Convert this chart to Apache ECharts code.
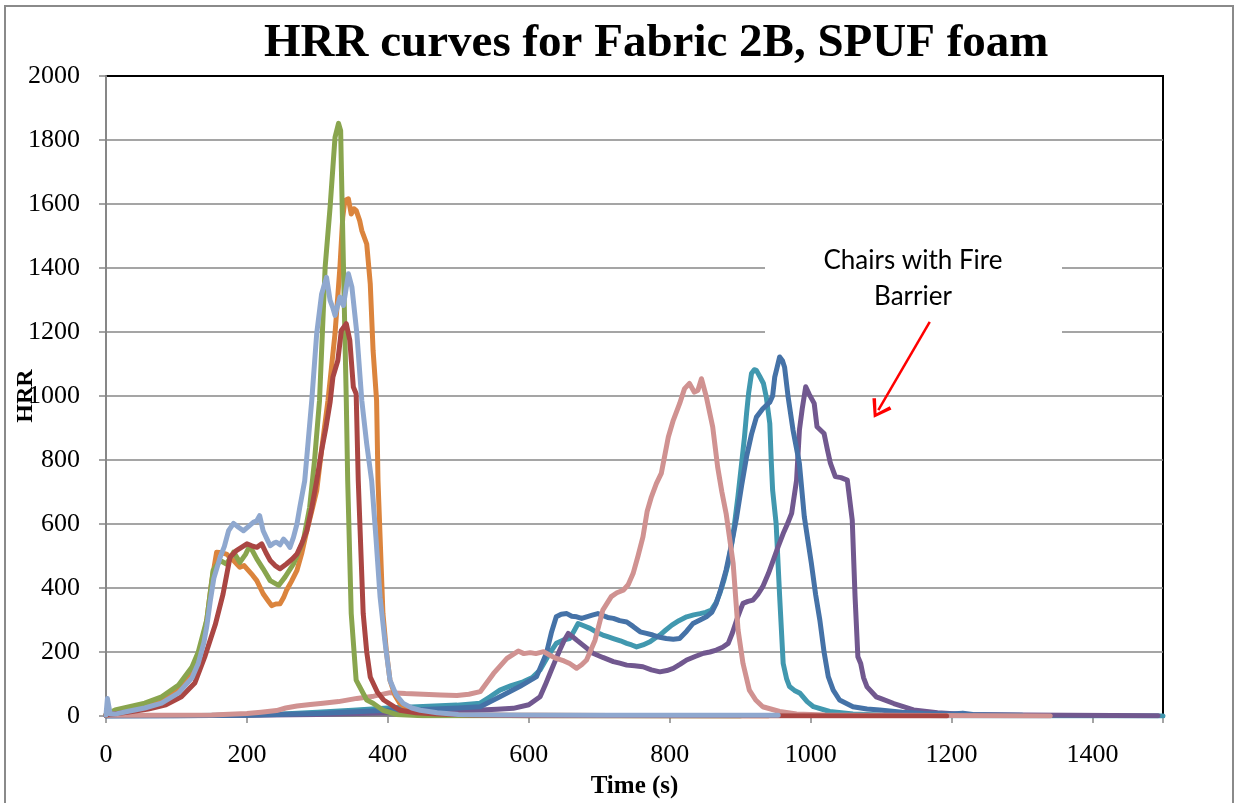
<!DOCTYPE html>
<html>
<head>
<meta charset="utf-8">
<title>HRR curves for Fabric 2B, SPUF foam</title>
<script src="https://cdn.jsdelivr.net/npm/echarts@6/dist/echarts.min.js"></script>
<style>
  html, body { margin: 0; padding: 0; background: #fff; }
  #chart { width: 1236px; height: 803px; }
</style>
</head>
<body>
<div id="chart"></div>
<script>
// Tick labels shown on each axis
const xTickLabels = [0, 200, 400, 600, 800, 1000, 1200, 1400];
const yTickLabels = [0, 200, 400, 600, 800, 1000, 1200, 1400, 1600, 1800, 2000];

// Heat release rate curves: [time (s), HRR]
const runTeal = [[0,0],[100,1],[200,3],[250,6],[300,12],[350,18],[400,25],[450,30],[498,34],[531,40],[545,60],[559,81],[575,95],[592,107],[605,120],[616,144],[628,190],[639,227],[650,238],[658,242],[664,265],[670,289],[678,282],[687,274],[696,262],[705,253],[712,248],[720,242],[730,235],[739,227],[746,222],[753,216],[762,222],[772,232],[779,243],[786,253],[794,268],[803,284],[813,298],[824,310],[834,316],[843,320],[851,324],[859,331],[866,355],[871,383],[877,425],[883,477],[888,540],[892,601],[897,690],[902,789],[906,870],[909,945],[912,1010],[916,1070],[920,1082],[923,1080],[928,1060],[933,1039],[937,997],[942,914],[944,800],[946,706],[951,601],[956,373],[961,164],[966,115],[970,92],[977,80],[985,71],[995,45],[1004,29],[1027,14],[1060,6],[1100,3],[1200,1],[1500,0]];

const runPurple = [[0,0],[100,1],[200,2],[300,5],[400,10],[450,12],[500,15],[531,19],[555,21],[578,24],[600,35],[616,60],[623,95],[630,133],[637,170],[644,206],[650,235],[656,258],[662,248],[668,237],[680,216],[691,196],[705,183],[720,170],[729,165],[739,159],[750,157],[762,154],[774,144],[786,138],[796,142],[805,149],[815,162],[824,175],[836,186],[848,196],[857,200],[866,206],[875,215],[883,227],[889,260],[895,300],[900,330],[904,352],[911,358],[918,362],[925,380],[932,404],[940,445],[947,487],[954,530],[961,570],[967,600],[973,633],[980,737],[984,893],[988,960],[993,1029],[998,1005],[1005,977],[1009,904],[1019,883],[1024,830],[1028,790],[1035,748],[1043,745],[1052,737],[1059,612],[1063,373],[1067,185],[1071,164],[1075,120],[1080,91],[1093,60],[1099,55],[1118,39],[1146,19],[1180,10],[1220,5],[1300,3],[1493,1]];

const runBlue = [[0,0],[100,1],[200,2],[300,8],[400,18],[450,20],[500,25],[531,29],[559,60],[587,92],[611,123],[625,196],[632,260],[639,310],[646,318],[654,320],[661,312],[668,310],[675,305],[682,310],[690,315],[698,320],[705,314],[712,308],[720,305],[729,298],[739,294],[748,280],[758,263],[767,258],[776,253],[786,246],[795,242],[805,240],[814,242],[824,265],[833,289],[843,300],[852,310],[860,325],[866,352],[873,400],[880,456],[888,540],[895,622],[902,720],[909,810],[916,880],[923,934],[932,960],[942,981],[946,1000],[949,1059],[953,1095],[956,1122],[960,1110],[963,1090],[968,997],[975,893],[984,789],[991,622],[1001,477],[1007,380],[1013,300],[1019,200],[1025,123],[1032,81],[1041,50],[1060,29],[1080,22],[1098,19],[1130,12],[1160,8],[1200,6],[1216,9],[1230,5],[1260,3],[1300,2]];

const runPink = [[0,2],[50,2],[150,3],[200,8],[220,12],[242,17],[255,25],[271,31],[290,36],[308,40],[330,45],[356,55],[380,62],[403,73],[425,70],[450,68],[475,66],[498,64],[515,68],[531,76],[550,133],[569,180],[585,203],[593,195],[602,198],[610,195],[621,201],[630,190],[639,180],[650,172],[658,164],[668,149],[675,160],[682,175],[694,237],[705,331],[717,373],[725,385],[734,393],[741,410],[748,445],[755,500],[762,560],[768,640],[774,685],[781,726],[788,758],[798,872],[805,924],[814,976],[821,1023],[828,1039],[835,1012],[840,1018],[845,1054],[852,997],[861,903],[868,778],[874,700],[880,633],[890,477],[897,268],[904,164],[913,81],[922,50],[932,29],[956,14],[980,6],[1020,3],[1340,0]];

const runOrange = [[0,3],[13,10],[55,28],[79,45],[103,80],[122,130],[131,175],[137,230],[143,300],[150,420],[157,512],[164,510],[171,506],[176,495],[181,486],[190,465],[196,470],[202,455],[208,440],[214,423],[223,382],[230,360],[235,345],[241,350],[247,351],[252,370],[256,392],[263,420],[271,455],[278,510],[285,579],[292,640],[299,704],[307,850],[315,986],[320,1090],[325,1195],[332,1403],[336,1559],[339,1611],[344,1616],[348,1569],[352,1585],[355,1580],[360,1548],[363,1517],[370,1475],[375,1351],[379,1143],[384,986],[386,735],[393,320],[398,200],[403,112],[410,65],[417,39],[430,20],[450,10],[500,3],[940,0]];

const runGreen = [[0,4],[3,8],[13,19],[55,40],[79,60],[103,97],[122,153],[131,200],[143,300],[152,455],[162,486],[171,475],[181,512],[190,480],[198,505],[204,532],[214,491],[223,460],[233,423],[245,408],[254,434],[266,475],[280,548],[289,652],[296,800],[303,986],[311,1403],[318,1590],[322,1715],[325,1808],[327,1810],[330,1852],[333,1829],[334,1715],[337,1403],[339,1195],[341,986],[343,735],[348,320],[355,112],[370,50],[379,40],[393,18],[412,5],[450,1],[900,0]];

const runRed = [[0,3],[5,5],[30,12],[60,22],[85,35],[107,60],[126,103],[140,184],[155,285],[166,380],[176,496],[185,517],[200,538],[207,532],[214,527],[221,538],[227,510],[233,486],[240,470],[247,460],[256,475],[264,490],[271,506],[278,540],[285,579],[292,650],[299,735],[306,830],[312,900],[318,980],[322,1059],[329,1111],[334,1205],[341,1226],[346,1174],[351,1028],[355,1007],[358,735],[365,320],[370,200],[375,122],[385,75],[394,50],[417,18],[440,10],[470,6],[520,3],[600,1],[1193,0]];

const runLightBlue = [[0,3],[2,55],[4,50],[6,6],[13,6],[30,14],[55,25],[79,40],[103,72],[122,119],[131,165],[139,230],[143,280],[148,360],[153,430],[162,496],[168,530],[174,579],[181,602],[188,590],[195,579],[202,592],[209,605],[214,610],[218,626],[223,579],[228,555],[233,532],[238,540],[242,543],[247,535],[252,553],[257,540],[261,527],[266,558],[271,600],[275,652],[282,735],[287,860],[292,986],[299,1195],[306,1319],[313,1371],[318,1299],[322,1275],[325,1252],[332,1309],[337,1283],[344,1382],[349,1340],[356,1195],[363,986],[370,850],[377,735],[383,560],[389,371],[396,230],[403,112],[412,65],[422,39],[434,25],[446,18],[470,10],[500,5],[560,3],[700,2],[954,2]];

// Arrow pointing at the barrier chairs, in data units: [time, HRR]
const arrowFrom = [1169, 1232];
const arrowTo = [1096, 956];

const runs = [
  { name: 'Run 5', data: runTeal,      color: '#4198AF' },
  { name: 'Run 4', data: runPurple,    color: '#71588F' },
  { name: 'Run 1', data: runBlue,      color: '#4572A7' },
  { name: 'Run 8', data: runPink,      color: '#D09291' },
  { name: 'Run 6', data: runOrange,    color: '#DB843D' },
  { name: 'Run 3', data: runGreen,     color: '#89A54E' },
  { name: 'Run 2', data: runRed,       color: '#AA4643' },
  { name: 'Run 7', data: runLightBlue, color: '#8FA8CF' }
];

const serif = '"Liberation Serif", "Times New Roman", serif';
const gridGray = '#878787';

const chart = echarts.init(document.getElementById('chart'), null, { renderer: 'canvas' });

const series = runs.map(function (r) {
  return {
    name: r.name,
    type: 'line',
    data: r.data,
    showSymbol: false,
    symbol: 'none',
    color: r.color,
    lineStyle: { width: 5, color: r.color, cap: 'round', join: 'round' },
    animation: false,
    silent: true
  };
});

// annotation arrow drawn in data space
series[1].markLine = {
  silent: true,
  animation: false,
  symbol: ['none', 'path://M5,0 L10,9 L8.6,10 L5,3 L1.4,10 L0,9 Z'],
  symbolSize: [22, 18],
  label: { show: false },
  lineStyle: { color: '#FF0000', width: 2.5, type: 'solid' },
  data: [[{ coord: arrowFrom }, { coord: arrowTo }]]
};

chart.setOption({
  backgroundColor: '#ffffff',
  animation: false,
  title: {
    text: 'HRR curves for Fabric 2B, SPUF foam',
    left: 259,
    top: 15,
    textStyle: { fontFamily: serif, fontSize: 47, fontWeight: 'bold', color: '#000' }
  },
  grid: {
    left: 106, right: 73, top: 76, bottom: 87,
    show: true, borderColor: '#000', borderWidth: 2, backgroundColor: 'transparent',
    containLabel: false, outerBoundsMode: 'none'
  },
  xAxis: {
    type: 'value',
    min: 0, max: 1500, interval: 200,
    name: 'Time (s)',
    nameLocation: 'middle',
    nameGap: 58,
    nameMoveOverlap: false,
    nameTextStyle: { fontFamily: serif, fontSize: 25, fontWeight: 'bold', color: '#000' },
    axisLine: { show: true, lineStyle: { color: gridGray, width: 2 } },
    axisTick: { show: true, length: 7, lineStyle: { color: gridGray, width: 1.5 } },
    splitLine: { show: false },
    axisLabel: {
      fontFamily: serif, fontSize: 26, color: '#000', margin: 26,
      formatter: function (v) { return xTickLabels.indexOf(v) >= 0 ? String(v) : ''; }
    }
  },
  yAxis: {
    type: 'value',
    min: 0, max: 2000, interval: 200,
    name: 'HRR',
    nameLocation: 'middle',
    nameGap: 68,
    nameRotate: 90,
    nameMoveOverlap: false,
    nameTextStyle: { fontFamily: serif, fontSize: 24, fontWeight: 'bold', color: '#000' },
    axisLine: { show: true, lineStyle: { color: gridGray, width: 2 } },
    axisTick: { show: true, length: 7, lineStyle: { color: gridGray, width: 1.5 } },
    splitLine: { show: true, showMaxLine: false, lineStyle: { color: gridGray, width: 1.6 } },
    axisLabel: {
      fontFamily: serif, fontSize: 26, color: '#000', margin: 26,
      formatter: function (v) { return yTickLabels.indexOf(v) >= 0 ? String(v) : ''; }
    }
  },
  graphic: [
    {
      type: 'rect', z: 1, silent: true,
      shape: { x: 5, y: 6, width: 1228, height: 830 },
      style: { fill: 'none', stroke: '#8a8a8a', lineWidth: 2 }
    },
    {
      type: 'rect', z: 1, silent: true,
      shape: { x: 765, y: 218, width: 297, height: 124 },
      style: { fill: '#ffffff', stroke: 'none' }
    },
    {
      type: 'text', z: 3, silent: true,
      x: 913, y: 243,
      style: {
        text: 'Chairs with Fire\nBarrier',
        fill: '#000',
        font: '26px Lato, "Open Sans", sans-serif',
        align: 'center',
        verticalAlign: 'top',
        lineHeight: 36
      }
    }
  ],
  series: series
});
</script>
</body>
</html>
